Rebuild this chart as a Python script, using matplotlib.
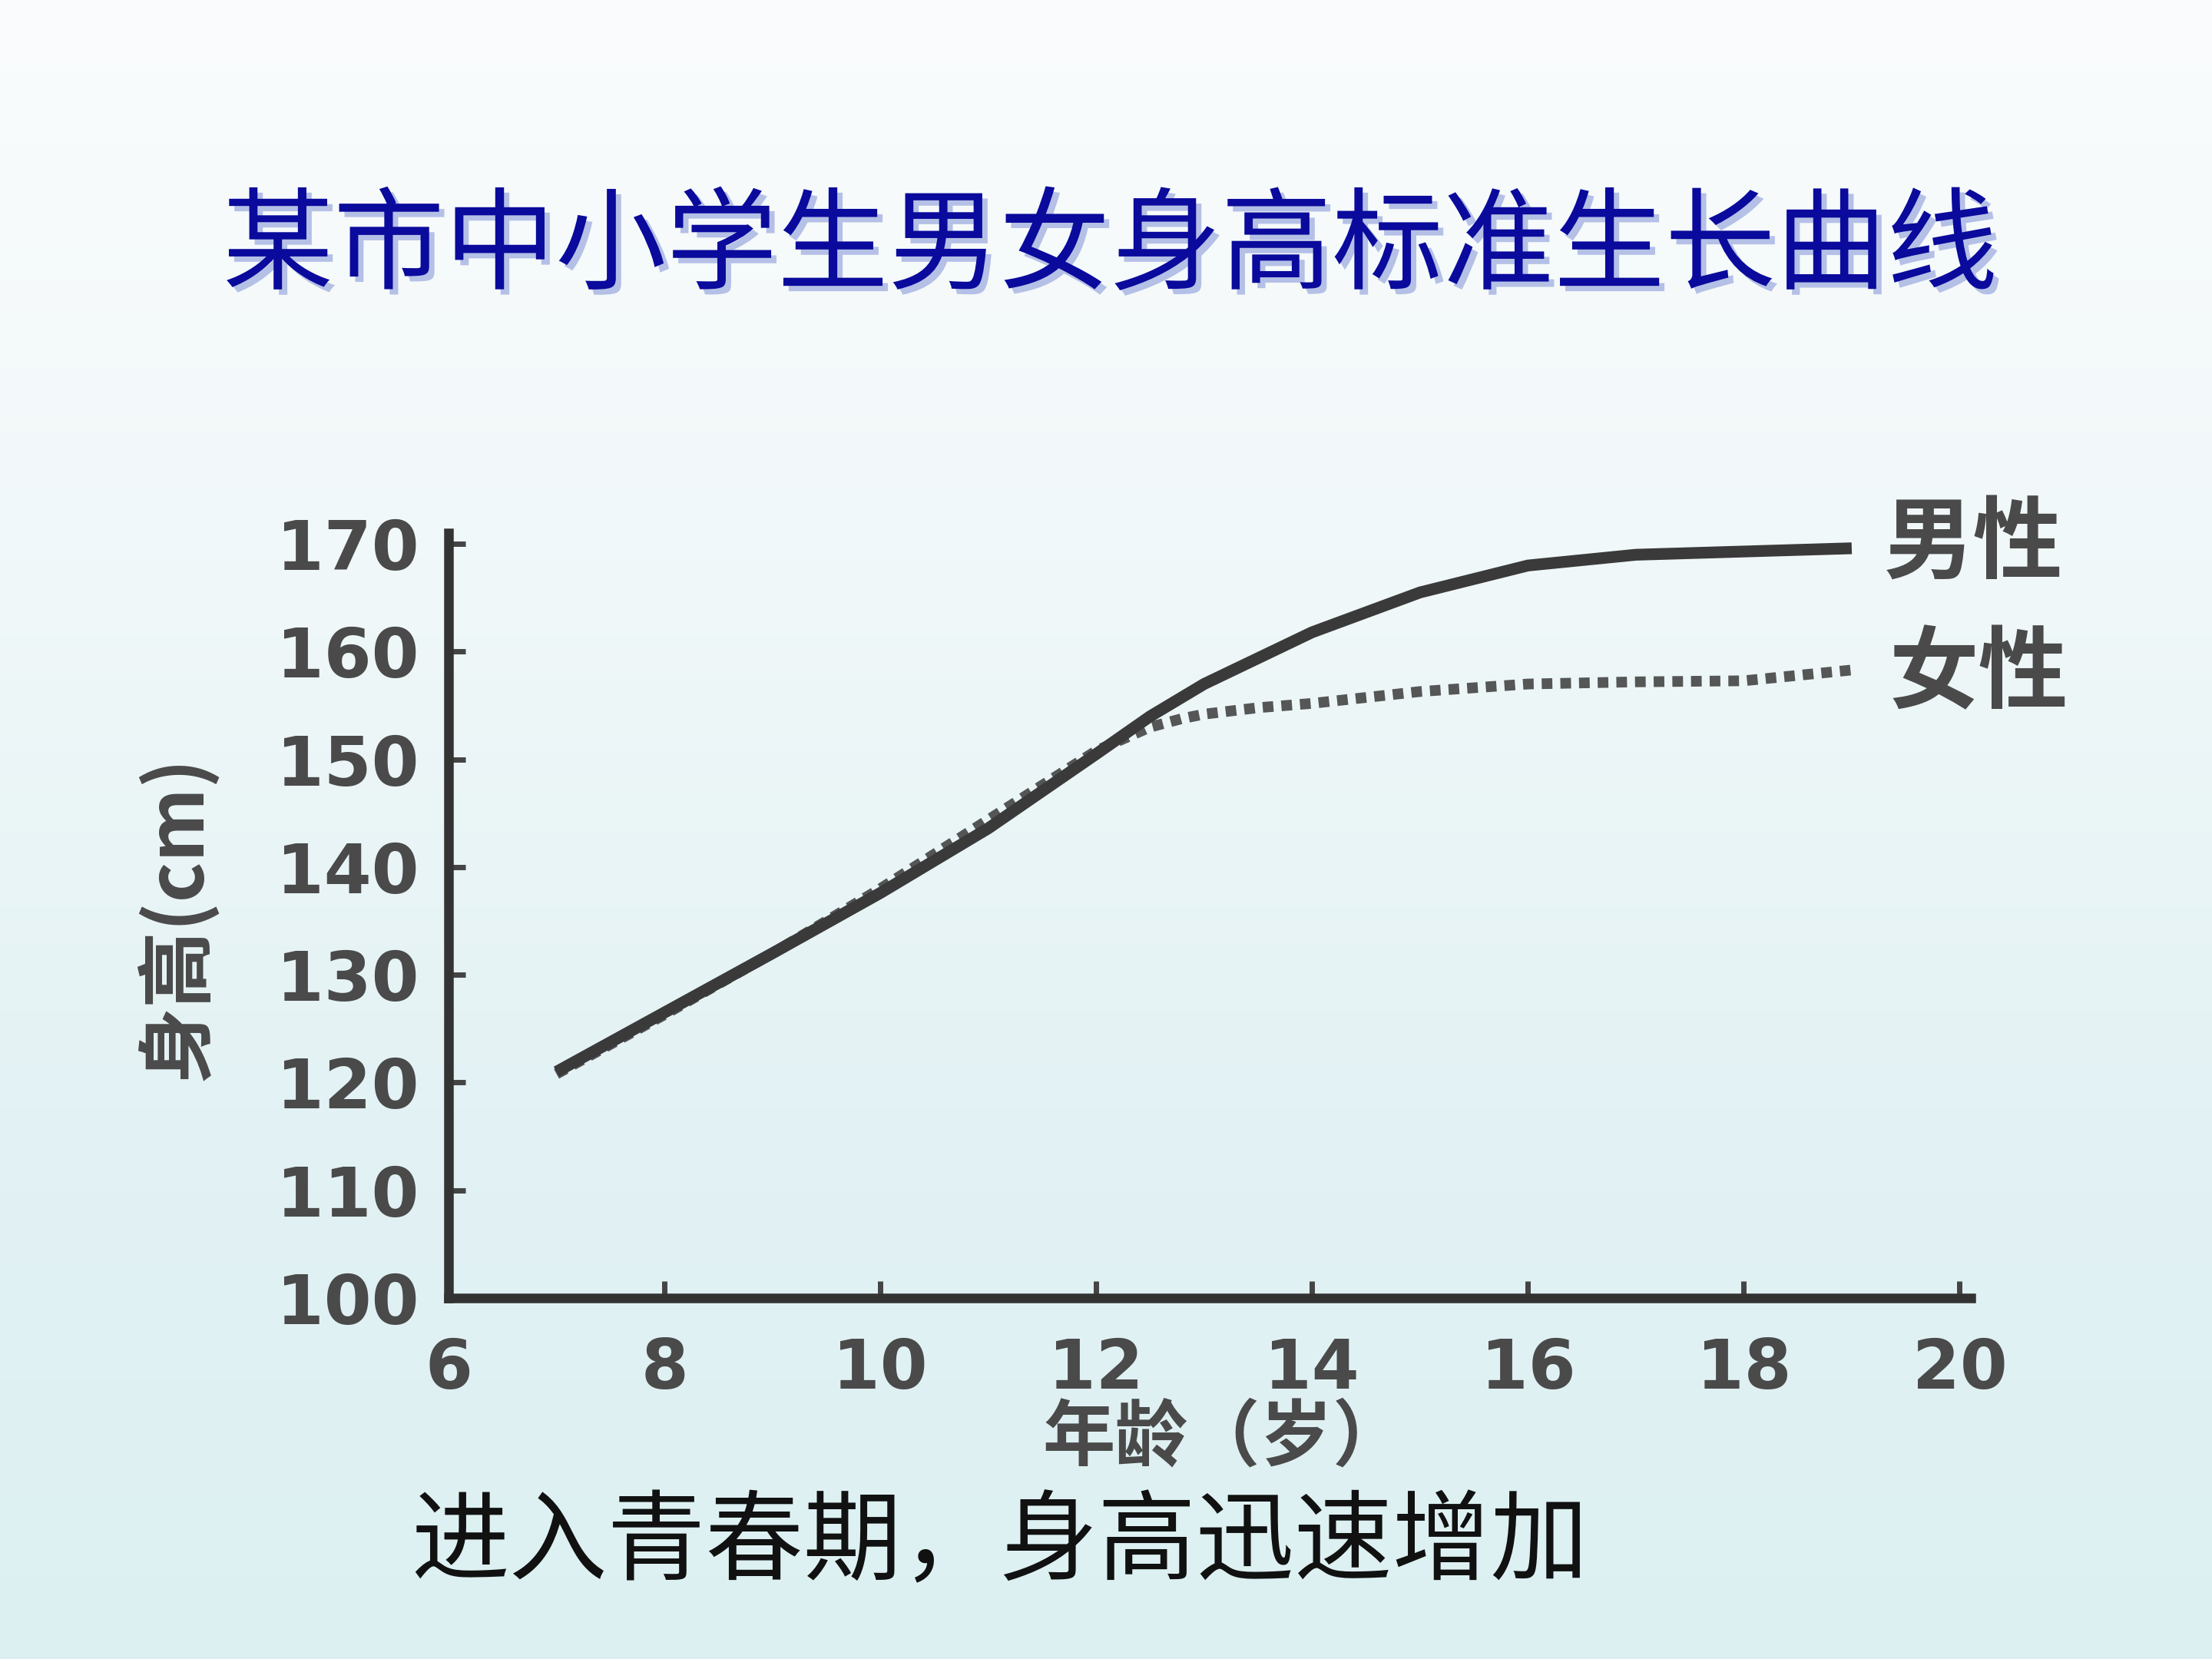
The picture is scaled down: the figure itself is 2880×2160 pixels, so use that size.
import numpy as np
import matplotlib
matplotlib.use("Agg")
import matplotlib.pyplot as plt
import matplotlib.patheffects as pe
from matplotlib.colors import LinearSegmentedColormap

plt.rcParams['font.family'] = ['Noto Sans CJK SC', 'DejaVu Sans']

# ---- data ----
title = "某市中小学生男女身高标准生长曲线"
caption = "进入青春期，身高迅速增加"
x_label = "年龄（岁）"
y_label = "身高(cm)"
male_label = "男性"
female_label = "女性"

male_age = [7, 8, 9, 10, 11, 12, 12.5, 13, 14, 15, 16, 17, 18, 19]
male_height = [121, 126.5, 132, 137.6, 143.6, 150.5, 154, 157, 161.8, 165.5, 168, 169, 169.3, 169.6]

female_age = [7, 8, 9, 10, 11, 12, 12.5, 12.8, 13, 13.5, 14, 15, 16, 17, 18, 19]
female_height = [120.8, 126.3, 132, 138.0, 144.4, 150.8, 153, 153.8, 154.2, 154.8, 155.2, 156.3, 157.0, 157.2, 157.3, 158.3]

x_ticks = [6, 8, 10, 12, 14, 16, 18, 20]
y_ticks = [100, 110, 120, 130, 140, 150, 160, 170]

# ---- figure ----
fig = plt.figure(figsize=(14.4, 10.8), dpi=200)

# gradient background
bg = fig.add_axes([0, 0, 1, 1], zorder=-10)
cmap = LinearSegmentedColormap.from_list("bg", ["#fafcfd", "#f1f8f9", "#e3f2f4", "#dcf0f2"])
grad = np.linspace(0, 1, 256).reshape(-1, 1)
bg.imshow(grad, aspect="auto", cmap=cmap, extent=[0, 1, 0, 1], origin="upper")
bg.set_axis_off()

fig.text(0.502, 0.850, title, ha="center", va="center", fontsize=52, weight="medium",
         color="#0a0a9c",
         path_effects=[pe.withSimplePatchShadow(offset=(2.5, -2.5), shadow_rgbFace="#8a9ad8", alpha=0.6)])

fig.text(0.452, 0.069, caption, ha="center", va="center", fontsize=46, color="#111111")

ink = "#3a3a3a"
txt = "#4a4a4a"
ax = fig.add_axes([0.2028, 0.2176, 0.688, 0.461])
ax.patch.set_alpha(0)
ax.plot(male_age, male_height, color=ink, lw=5.5, solid_capstyle="butt")
ax.plot(female_age, female_height, color=ink, lw=5.0, linestyle=(0, (1.0, 0.75)), alpha=0.85)

ax.set_xlim(6, 20.1)
ax.set_ylim(100, 171)
ax.set_xticks(x_ticks)
ax.set_yticks(y_ticks)
ax.set_xticklabels([str(v) for v in x_ticks])
ax.set_yticklabels([str(v) for v in y_ticks])
for s in ["top", "right"]:
    ax.spines[s].set_visible(False)
for s in ["left", "bottom"]:
    ax.spines[s].set_linewidth(4.5)
    ax.spines[s].set_color("#333333")
ax.tick_params(axis="both", direction="in", length=8, width=2.5, color="#444444",
               labelsize=32, labelcolor=txt)
ax.tick_params(axis="y", pad=14)
ax.tick_params(axis="x", pad=18)
for lab in ax.get_xticklabels() + ax.get_yticklabels():
    lab.set_fontweight("bold")
    lab.set_family(["DejaVu Sans"])

fig.text(0.5535, 0.133, x_label, ha="center", va="center", fontsize=34, color=txt, weight="bold")
fig.text(0.0798, 0.447, y_label, ha="center", va="center", fontsize=36, color=txt, weight="bold",
         rotation=90)

ax.text(19.3, male_height[-1] + 0.3, male_label, fontsize=42, weight="bold", color=txt,
        ha="left", va="center", clip_on=False)
ax.text(19.35, female_height[-1] - 0.5, female_label, fontsize=42, weight="bold", color=txt,
        ha="left", va="center", clip_on=False)

fig.savefig("out.png", dpi=200)
